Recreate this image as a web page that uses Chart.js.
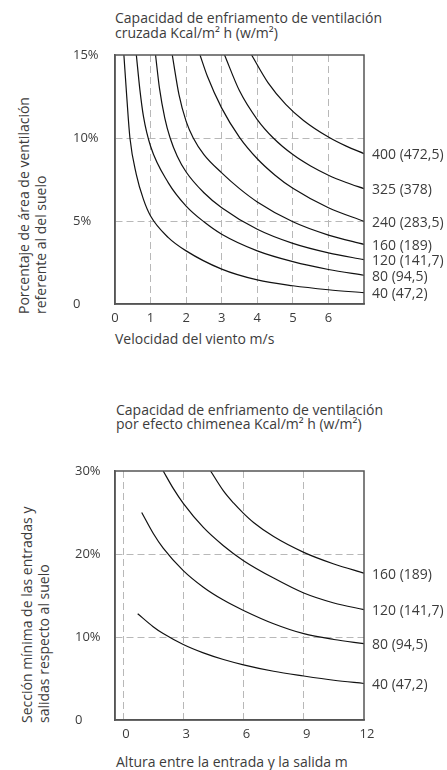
<!DOCTYPE html>
<html>
<head>
<meta charset="utf-8">
<script src="https://cdn.jsdelivr.net/npm/chart.js@4.4.1/dist/chart.umd.min.js"></script>
<style>
body { margin: 0; width: 447px; height: 770px; position: relative; background: #fff; overflow: hidden;
       font-family: "Open Sans", sans-serif; color: #3c3c3c; }
.box { position: absolute; left: 0; width: 447px; height: 385px; }
.txt { position: absolute; font-size: 14px; line-height: 15px; white-space: nowrap; }
.rot { transform-origin: 0 0; transform: rotate(-90deg); line-height: 16.5px; }
</style>
</head>
<body>
<div class="txt" style="left:115px;top:10px">Capacidad de enfriamento de ventilación<br>cruzada Kcal/m² h (w/m²)</div>
<div class="txt rot" style="left:16px;top:314px">Porcentaje de área de ventilación<br>referente al del suelo</div>
<div class="txt" style="left:115px;top:331px">Velocidad del viento m/s</div>
<div class="box" style="top:0"><canvas id="cruzada"></canvas></div>

<div class="txt" style="left:116px;top:403px;line-height:14px">Capacidad de enfriamento de ventilación<br>por efecto chimenea Kcal/m² h (w/m²)</div>
<div class="txt rot" style="left:19px;top:723px">Sección mínima de las entradas y<br>salidas respecto al suelo</div>
<div class="txt" style="left:116px;top:754px">Altura entre la entrada y la salida m</div>
<div class="box" style="top:385px"><canvas id="chimenea"></canvas></div>

<script>
// Ventilación cruzada: velocidad del viento (m/s) vs % de área
const cruzadaSeries = ['40 (47,2)', '80 (94,5)', '120 (141,7)', '160 (189)', '240 (283,5)', '325 (378)', '400 (472,5)'];
const cruzadaX = [
    [0.25, 0.33, 0.42, 0.6, 0.8, 1, 1.5, 2, 3, 4, 5, 6, 7],
    [0.6, 0.7, 0.8, 1, 1.5, 2, 2.5, 3, 4, 5, 6, 7],
    [1.14, 1.25, 1.4, 1.55, 1.75, 2, 2.5, 3, 4, 5, 6, 7],
    [1.61, 1.8, 2, 2.2, 2.5, 3, 3.5, 4, 5, 6, 7],
    [2.39, 2.6, 3, 3.5, 4, 4.5, 5, 6, 7],
    [3.08, 3.5, 4, 4.45, 5, 5.5, 6, 6.5, 7],
    [3.84, 4.3, 4.8, 5.3, 6, 6.5, 7]
];
const cruzadaY = [
    [15, 12.5, 10, 7.8, 6.3, 5.3, 4.0, 3.2, 2.1, 1.45, 1.1, 0.86, 0.68],
    [15, 12.9, 11.3, 9.5, 7.3, 5.9, 4.95, 4.2, 3.2, 2.55, 2.08, 1.73],
    [15, 13.0, 11.2, 10.0, 8.9, 7.95, 6.7, 5.8, 4.5, 3.65, 3.08, 2.67],
    [15, 12.6, 11.0, 10.0, 9.0, 7.9, 6.95, 6.15, 4.95, 4.15, 3.59],
    [15, 13.7, 11.8, 10.04, 8.75, 7.76, 6.97, 5.8, 4.98],
    [15, 12.84, 11.11, 10.0, 9.0, 8.31, 7.76, 7.32, 6.95],
    [15, 13.34, 12.03, 11.06, 10.06, 9.51, 9.06]
];
const vientoTicks = [0, 1, 2, 3, 4, 5, 6, 7];
const areaTicks = [0, 5, 10, 15];

// Efecto chimenea: altura (m) vs % de sección
const chimeneaSeries = ['40 (47,2)', '80 (94,5)', '120 (141,7)', '160 (189)'];
const chimeneaX = [
    [0.73, 1.5, 2, 3, 4, 5, 6, 7.5, 9, 10.5, 12],
    [0.93, 1.5, 2, 3, 4, 5, 6, 7.5, 9, 10.5, 12],
    [2.0, 2.5, 3, 4, 5, 6, 7.5, 9, 10.5, 12],
    [4.36, 5, 5.5, 6, 6.5, 7.5, 9, 10.5, 12]
];
const chimeneaY = [
    [12.8, 11.24, 10.41, 9.1, 8.09, 7.29, 6.65, 5.87, 5.3, 4.79, 4.4],
    [25, 22.5, 20.7, 18.0, 16.0, 14.45, 13.2, 11.6, 10.4, 9.7, 9.2],
    [30, 27.9, 26.1, 23.2, 21.0, 19.2, 17.1, 15.3, 14.1, 13.3],
    [30, 27.6, 26.15, 24.9, 23.8, 22.1, 20.2, 18.8, 17.7]
];
const alturaTicks = [0, 3, 6, 9, 12];
const seccionTicks = [0, 10, 20, 30];

Chart.defaults.font.family = '"Open Sans", sans-serif';
Chart.defaults.font.size = 13;
Chart.defaults.color = '#3c3c3c';

// marco del área y etiquetas al final de cada curva
const marco = {
    id: 'marco',
    afterDatasetsDraw(chart) {
        const a = chart.chartArea;
        const ctx = chart.ctx;
        ctx.save();
        ctx.strokeStyle = '#555';
        ctx.lineWidth = 1.5;
        ctx.strokeRect(a.left, a.top, a.right - a.left, a.bottom - a.top);
        ctx.fillStyle = '#3c3c3c';
        ctx.font = '14px "Open Sans", sans-serif';
        ctx.textBaseline = 'middle';
        chart.data.datasets.forEach((ds, i) => {
            const pts = chart.getDatasetMeta(i).data;
            const last = pts[pts.length - 1];
            ctx.fillText(ds.label, a.right + 8, last.y + 1.5);
        });
        ctx.restore();
    }
};

function makeDatasets(names, xs, ys) {
    return names.map((name, i) => ({
        label: name,
        data: xs[i].map((x, j) => ({ x: x, y: ys[i][j] })),
        borderColor: '#111',
        borderWidth: 1.2,
        pointRadius: 0,
        fill: false,
        cubicInterpolationMode: 'monotone'
    }));
}

function gridColor(ctx) {
    const s = ctx.scale;
    if (!ctx.tick) return 'rgba(0,0,0,0)';
    return (ctx.tick.value === s.min || ctx.tick.value === s.max) ? 'rgba(0,0,0,0)' : '#b8b8b8';
}

function makeChart(id, names, xs, ys, opts) {
    return new Chart(document.getElementById(id).getContext('2d'), {
        type: 'line',
        data: { datasets: makeDatasets(names, xs, ys) },
        options: {
            responsive: true,
            maintainAspectRatio: false,
            animation: false,
            layout: { padding: { left: opts.padLeft, right: 83, top: opts.padTop, bottom: 0 } },
            plugins: { legend: { display: false }, tooltip: { enabled: false } },
            scales: {
                x: {
                    type: 'linear',
                    min: opts.xMin,
                    max: opts.xMax,
                    afterBuildTicks: s => { s.ticks = opts.xTicks.map(v => ({ value: v })); },
                    afterFit: s => { s.height = opts.xHeight; },
                    ticks: {
                        padding: 6,
                        labelOffset: opts.xOffset,
                        maxRotation: 0,
                        autoSkip: false,
                        callback: v => (opts.xHide.includes(v) ? '' : String(v))
                    },
                    grid: { color: gridColor, lineWidth: 1, drawTicks: false },
                    border: { display: true, color: '#555', width: 1.5, dash: [7, 4] }
                },
                y: {
                    min: 0,
                    max: opts.yTicks[opts.yTicks.length - 1],
                    afterBuildTicks: s => { s.ticks = opts.yTicks.map(v => ({ value: v })); },
                    afterFit: s => { s.width = opts.yWidth; },
                    ticks: {
                        crossAlign: 'far',
                        padding: 6,
                        callback: v => (v === 0 ? '0' : v + '%')
                    },
                    grid: { color: gridColor, lineWidth: 1, drawTicks: false },
                    border: { display: true, color: '#555', width: 1.5, dash: [7, 4] }
                }
            }
        },
        plugins: [marco]
    });
}

makeChart('cruzada', cruzadaSeries, cruzadaX, cruzadaY, {
    padLeft: 73, padTop: 55, yWidth: 42, xHeight: 81,
    xMin: 0, xMax: 7, xTicks: vientoTicks, xHide: [7], xOffset: 0,
    yTicks: areaTicks
});

makeChart('chimenea', chimeneaSeries, chimeneaX, chimeneaY, {
    padLeft: 75, padTop: 86, yWidth: 40, xHeight: 50,
    xMin: -0.4, xMax: 12, xTicks: alturaTicks, xHide: [], xOffset: 3,
    yTicks: seccionTicks
});
</script>
</body>
</html>
